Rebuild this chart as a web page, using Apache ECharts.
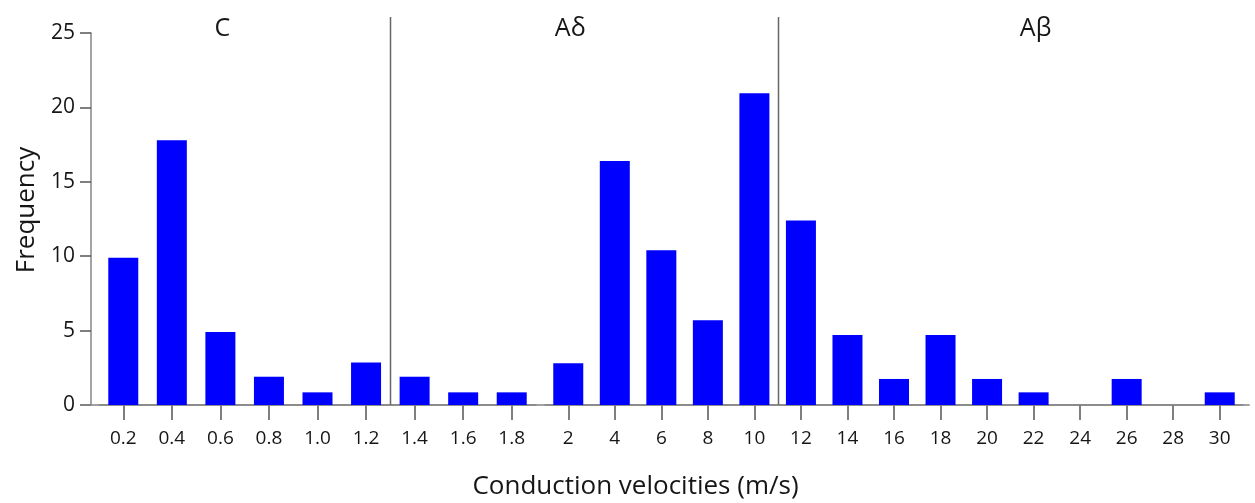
<!DOCTYPE html>
<html>
<head>
<meta charset="utf-8">
<script src="https://cdn.jsdelivr.net/npm/echarts@6/dist/echarts.min.js"></script>
<style>
  html, body { margin: 0; padding: 0; background: #ffffff; }
  #chart { width: 1255px; height: 503px; }
</style>
</head>
<body>
<div id="chart"></div>
<script>
// Conduction velocity classes below 2 m/s (drawn on the left axis segment)
const velocitySlow = ['0.2', '0.4', '0.6', '0.8', '1.0', '1.2', '1.4', '1.6', '1.8'];
const freqSlow = [9.9, 17.8, 4.9, 1.9, 0.85, 2.85, 1.9, 0.85, 0.85];

// Conduction velocity classes from 2 m/s upward (right axis segment)
const velocityFast = ['2', '4', '6', '8', '10', '12', '14', '16', '18', '20', '22', '24', '26', '28', '30'];
const freqFast = [2.8, 16.4, 10.4, 5.7, 20.95, 12.4, 4.7, 1.75, 4.7, 1.75, 0.85, 0, 1.75, 0, 0.85];

// Frequency axis
const freqMin = 0;
const freqMax = 25;
const freqStep = 5;

// Fibre classes and the velocity class each name is written over
const fibreClasses = ['C', 'Aδ', 'Aβ'];
const fibreClassCentres = [[0, '0.6'], [1, '2'], [1, '22']];
// Class boundaries: [axis index, last class of one group, first class of the next]
const fibreBoundaries = [[0, '1.2', '1.4'], [1, '10', '12']];

const xTitle = 'Conduction velocities (m/s)';
const yTitle = 'Frequency';

const FONT = '"Open Sans", Lato, sans-serif';
const TEXT = '#161616';
const AXIS = '#858585';
const TICK = '#555555';

const chart = echarts.init(document.getElementById('chart'), null, { renderer: 'canvas' });

function xAxisFor(cats, gridIndex) {
  return {
    type: 'category',
    gridIndex: gridIndex,
    data: cats,
    boundaryGap: true,
    axisLine: { show: true, lineStyle: { color: AXIS, width: 1.5 } },
    axisTick: { show: true, alignWithLabel: true, interval: 0, length: 15, lineStyle: { color: TICK, width: 1.5 } },
    axisLabel: { interval: 0, margin: 24, color: TEXT, fontFamily: FONT, fontSize: 19 },
    splitLine: { show: false }
  };
}

function yAxisFor(gridIndex, visible) {
  return {
    type: 'value',
    gridIndex: gridIndex,
    show: visible,
    min: freqMin,
    max: freqMax,
    interval: freqStep,
    offset: 8,
    name: visible ? yTitle : '',
    nameLocation: 'middle',
    nameRotate: 90,
    nameGap: 51,
    nameTextStyle: { color: TEXT, fontFamily: FONT, fontSize: 26, padding: [0, 0, 0, 18] },
    axisLine: { show: true, lineStyle: { color: AXIS, width: 1.5 } },
    axisTick: { show: true, length: 11, lineStyle: { color: TICK, width: 1.5 } },
    axisLabel: { margin: 16, color: TEXT, fontFamily: FONT, fontSize: 21 },
    splitLine: { show: false }
  };
}

const barStyle = { color: '#0000ff' };

const option = {
  backgroundColor: '#ffffff',
  animation: false,
  grid: [
    { left: 99, right: 719, top: 33, bottom: 98, containLabel: false },
    { left: 545, right: 12, top: 33, bottom: 98, containLabel: false }
  ],
  xAxis: [xAxisFor(velocitySlow, 0), xAxisFor(velocityFast, 1)],
  yAxis: [yAxisFor(0, true), yAxisFor(1, false)],
  series: [
    { type: 'bar', xAxisIndex: 0, yAxisIndex: 0, data: freqSlow, barWidth: 30, itemStyle: barStyle, z: 3 },
    { type: 'bar', xAxisIndex: 1, yAxisIndex: 1, data: freqFast, barWidth: 30, itemStyle: barStyle, z: 3 }
  ]
};

chart.setOption(option);

// Decorations placed from the axes' own scales
const px = (axisIndex, cat) => chart.convertToPixel({ xAxisIndex: axisIndex }, cat);
const zeroY = chart.convertToPixel({ yAxisIndex: 0 }, freqMin);
const topY = chart.convertToPixel({ yAxisIndex: 0 }, freqMax) - 16;
const plotLeft = px(0, velocitySlow[0]) - 43;
const plotRight = px(1, velocityFast[velocityFast.length - 1]) + 30;

const graphics = [];

// Continuous baseline under both velocity segments
graphics.push({
  type: 'line', silent: true, z: 1,
  shape: { x1: plotLeft, y1: zeroY, x2: plotRight, y2: zeroY },
  style: { stroke: AXIS, lineWidth: 1.5 }
});

// Vertical separators between fibre classes
fibreBoundaries.forEach(([ai, a, b]) => {
  const x = Math.round((px(ai, a) + px(ai, b)) / 2) + 0.5;
  graphics.push({
    type: 'line', silent: true, z: 1,
    shape: { x1: x, y1: topY, x2: x, y2: zeroY },
    style: { stroke: '#666666', lineWidth: 1.5 }
  });
});

// Fibre class names
fibreClasses.forEach((name, i) => {
  const [ai, cat] = fibreClassCentres[i];
  graphics.push({
    type: 'text', silent: true, z: 5,
    x: px(ai, cat) + 2, y: 29,
    style: { text: name, fill: TEXT, fontFamily: FONT, fontSize: 25, align: 'center', verticalAlign: 'middle' }
  });
});

// Shared x-axis title
graphics.push({
  type: 'text', silent: true, z: 5,
  x: (px(0, velocitySlow[0]) + px(1, velocityFast[velocityFast.length - 1])) / 2 - 36, y: 487,
  style: { text: xTitle, fill: TEXT, fontFamily: FONT, fontSize: 26, align: 'center', verticalAlign: 'middle' }
});

chart.setOption({ graphic: graphics });
</script>
</body>
</html>
